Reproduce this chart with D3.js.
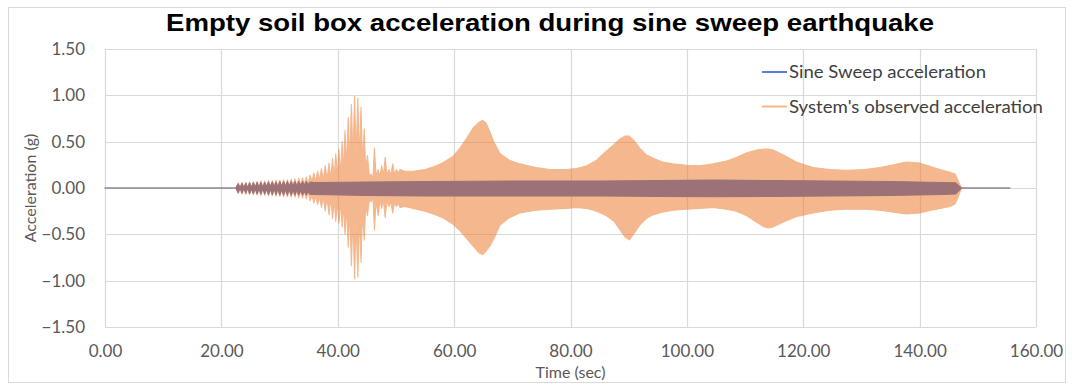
<!DOCTYPE html>
<html>
<head>
<meta charset="utf-8">
<script src="https://cdn.jsdelivr.net/npm/d3@7"></script>
<style>
  html, body { margin: 0; padding: 0; background: #fff; }
  svg { display: block; }
</style>
</head>
<body>
<svg id="chart" width="1072" height="385"></svg>
<script>
// ---- Axis ticks -------------------------------------------------------
const xTicks = [0, 20, 40, 60, 80, 100, 120, 140, 160];
const yTicks = [-1.5, -1.0, -0.5, 0, 0.5, 1.0, 1.5];

// ---- Series names -----------------------------------------------------
const seriesNames = ["Sine Sweep acceleration", "System's observed acceleration"];

// ---- Sine sweep input: outline of the record (time s, upper g, lower g)
const sweepTime = [0, 22.5,
  22.9, 23.2, 23.55, 23.85, 24.2, 24.5, 24.85, 25.15, 25.5, 25.8,
  26.15, 26.45, 26.8, 27.1, 27.45, 27.75, 28.1, 28.4, 28.75, 29.05,
  29.4, 29.7, 30.05, 30.35, 30.7, 31.0, 31.35, 31.65, 32.0, 32.3,
  32.65, 32.95, 33.3, 33.6, 33.95, 34.25, 34.6, 34.9,
  35.25, 36, 45, 55, 70, 85, 95, 105, 115, 125, 135, 144, 146.2, 146.8, 147.2, 155.5];
const sweepUpper = [0, 0,
  0.045, 0.0, 0.05, 0.0, 0.05, 0.0, 0.055, 0.005, 0.055, 0.005,
  0.06, 0.005, 0.06, 0.005, 0.06, 0.01, 0.065, 0.01, 0.065, 0.01,
  0.065, 0.01, 0.07, 0.015, 0.07, 0.015, 0.07, 0.015, 0.07, 0.02,
  0.07, 0.02, 0.07, 0.025, 0.07, 0.03, 0.07, 0.035,
  0.065, 0.06, 0.065, 0.07, 0.075, 0.075, 0.08, 0.085, 0.08, 0.075, 0.07, 0.06, 0.055, 0.02, 0, 0];
const sweepLower = [0, 0,
  -0.05, 0.0, -0.055, 0.0, -0.055, 0.0, -0.06, -0.005, -0.06, -0.005,
  -0.065, -0.005, -0.065, -0.005, -0.065, -0.01, -0.07, -0.01, -0.07, -0.01,
  -0.07, -0.01, -0.075, -0.015, -0.075, -0.015, -0.075, -0.015, -0.075, -0.02,
  -0.075, -0.02, -0.075, -0.025, -0.075, -0.03, -0.075, -0.035,
  -0.07, -0.07, -0.08, -0.085, -0.085, -0.085, -0.09, -0.095, -0.09, -0.085, -0.08, -0.07, -0.065, -0.025, 0, 0];

// ---- Observed response, cycle by cycle up to 50.7 s (peaks and valleys)
const burstTime = [0, 22.5,
  22.9, 23.2, 23.55, 23.85, 24.2, 24.5, 24.85, 25.15, 25.5, 25.8,
  26.15, 26.45, 26.8, 27.1, 27.45, 27.75, 28.1, 28.4, 28.75, 29.05,
  29.4, 29.7, 30.05, 30.35, 30.7, 31.0, 31.35, 31.65, 32.0, 32.3,
  32.65, 32.95, 33.3, 33.6, 33.95, 34.25, 34.6, 34.9,
  35.25, 35.55, 35.9, 36.2, 36.55, 36.85, 37.2, 37.5, 37.85, 38.15,
  38.5, 38.8, 39.1, 39.4, 39.65, 39.95, 40.2, 40.5, 40.75, 41.0,
  41.25, 41.5, 41.8, 42.05, 42.35, 42.6, 42.9, 43.15, 43.45, 43.7,
  44.0, 44.25, 44.55, 44.8, 45.1, 45.45, 45.75, 46.05, 46.3, 46.6,
  46.95, 47.25, 47.55, 47.85, 48.15, 48.45, 48.8, 49.1, 49.45, 49.75,
  50.1, 50.4, 50.7];
const burstUpper = [0, 0,
  0.055, 0.005, 0.06, 0.005, 0.065, 0.005, 0.065, 0.01, 0.07, 0.01,
  0.07, 0.01, 0.075, 0.01, 0.075, 0.015, 0.08, 0.015, 0.08, 0.015,
  0.085, 0.015, 0.085, 0.02, 0.09, 0.02, 0.09, 0.02, 0.095, 0.025,
  0.10, 0.025, 0.105, 0.03, 0.11, 0.035, 0.12, 0.04,
  0.14, 0.07, 0.16, 0.075, 0.18, 0.08, 0.21, 0.085, 0.24, 0.09,
  0.27, 0.1, 0.32, 0.11, 0.37, 0.13, 0.42, 0.15, 0.5, 0.18,
  0.62, 0.22, 0.76, 0.27, 0.9, 0.32, 0.99, 0.35, 0.97, 0.33,
  0.87, 0.28, 0.64, 0.2, 0.35, 0.12, 0.15, 0.1, 0.43, 0.13,
  0.2, 0.12, 0.24, 0.13, 0.33, 0.14, 0.2, 0.14, 0.26, 0.15,
  0.2, 0.16, 0.2];
const burstLower = [0, 0,
  -0.06, -0.005, -0.065, -0.005, -0.07, -0.005, -0.07, -0.01, -0.075, -0.01,
  -0.075, -0.01, -0.08, -0.01, -0.08, -0.015, -0.085, -0.015, -0.085, -0.015,
  -0.09, -0.015, -0.09, -0.02, -0.095, -0.02, -0.095, -0.02, -0.1, -0.025,
  -0.1, -0.025, -0.105, -0.03, -0.11, -0.035, -0.12, -0.04,
  -0.14, -0.08, -0.16, -0.085, -0.18, -0.09, -0.21, -0.095, -0.25, -0.1,
  -0.29, -0.11, -0.33, -0.12, -0.36, -0.14, -0.38, -0.15, -0.42, -0.17,
  -0.5, -0.2, -0.64, -0.24, -0.84, -0.3, -0.98, -0.34, -0.96, -0.32,
  -0.8, -0.27, -0.56, -0.19, -0.3, -0.12, -0.15, -0.1, -0.45, -0.14,
  -0.3, -0.13, -0.22, -0.13, -0.32, -0.14, -0.2, -0.15, -0.27, -0.16,
  -0.2, -0.17, -0.21];

// ---- Observed response, outline of the dense part (51.5 s onwards)
const envTime = [51.5, 53, 55, 56.5, 58, 59.8, 61, 62.1, 63.3, 64.3,
  64.9, 65.5, 66.2, 66.8, 67.9, 69.5, 71.3, 74, 76.5, 79.3,
  81, 82.8, 84.5, 86.2, 87.5, 88.5, 89.4, 90.1, 90.8, 91.9,
  93, 94.2, 95.8, 97.6, 100, 102.2, 104.5, 106.8, 108.5, 110.3,
  112, 113.3, 114, 114.8, 116.5, 118.8, 121.7, 124.5, 127.4, 130.5,
  133.2, 135.5, 137.7, 140, 142, 143.5, 145.2, 146.1, 146.6, 147.2, 155.5];
const envUpper = [0.18, 0.18, 0.2, 0.23, 0.27, 0.34, 0.43, 0.53, 0.65, 0.71,
  0.73, 0.7, 0.6, 0.5, 0.37, 0.3, 0.26, 0.22, 0.2, 0.2,
  0.21, 0.24, 0.3, 0.4, 0.47, 0.53, 0.56, 0.56, 0.52, 0.43,
  0.36, 0.32, 0.28, 0.26, 0.245, 0.24, 0.26, 0.29, 0.33, 0.38,
  0.41, 0.42, 0.42, 0.41, 0.36, 0.28, 0.22, 0.2, 0.19, 0.2,
  0.22, 0.25, 0.28, 0.27, 0.23, 0.2, 0.17, 0.15, 0.08, 0, 0];
const envLower = [-0.2, -0.22, -0.25, -0.28, -0.32, -0.39, -0.46, -0.54, -0.63, -0.7,
  -0.72, -0.68, -0.62, -0.55, -0.4, -0.32, -0.27, -0.24, -0.23, -0.22,
  -0.21, -0.22, -0.25, -0.3, -0.36, -0.45, -0.53, -0.56, -0.5, -0.4,
  -0.33, -0.29, -0.26, -0.24, -0.23, -0.22, -0.21, -0.23, -0.25, -0.3,
  -0.37, -0.42, -0.43, -0.42, -0.37, -0.31, -0.27, -0.24, -0.23, -0.23,
  -0.24, -0.26, -0.28, -0.27, -0.24, -0.22, -0.2, -0.17, -0.1, 0, 0];

// ---- Layout -----------------------------------------------------------
const plot = { left: 105, right: 1036, top: 49, bottom: 327 };
const colors = { sweep: "#3A66CE", observed: "#ED7D31", grid: "#D9D9D9", axisText: "#595959", legendText: "#404040" };
const tickFont = "Lato, 'Open Sans', sans-serif";

const svg = d3.select("#chart");

const x = d3.scaleLinear().domain([0, 160]).range([plot.left, plot.right]);
const y = d3.scaleLinear().domain([-1.5, 1.5]).range([plot.bottom, plot.top]);

// chart frame
svg.append("rect")
  .attr("x", 8.5).attr("y", 7.5).attr("width", 1057).attr("height", 375)
  .attr("fill", "#fff").attr("stroke", "#D9D9D9").attr("stroke-width", 1);

// gridlines
const grid = svg.append("g").attr("stroke", colors.grid).attr("stroke-width", 1.2);
grid.selectAll("line.h").data(yTicks).join("line").attr("class", "h")
  .attr("x1", plot.left).attr("x2", plot.right)
  .attr("y1", d => Math.round(y(d)) + 0.5).attr("y2", d => Math.round(y(d)) + 0.5);
grid.selectAll("line.v").data(xTicks).join("line").attr("class", "v")
  .attr("y1", plot.top).attr("y2", plot.bottom)
  .attr("x1", d => Math.round(x(d)) + 0.5).attr("x2", d => Math.round(x(d)) + 0.5);

// rows for the two series
const zip = (t, u, l) => t.map((d, i) => ({ t: d, up: u[i], lo: l[i] }));
const sweepRows = zip(sweepTime, sweepUpper, sweepLower);
const observedRows = zip(burstTime, burstUpper, burstLower).concat(zip(envTime, envUpper, envLower));

const area = d3.area()
  .x(d => x(d.t))
  .y0(d => y(d.lo))
  .y1(d => y(d.up));

// sine sweep input (drawn first, below)
svg.append("path")
  .datum(sweepRows)
  .attr("d", area)
  .attr("fill", colors.sweep)
  .attr("stroke", colors.sweep)
  .attr("stroke-width", 1.1)
  .attr("stroke-linejoin", "round");

// observed response (semi-transparent, on top)
svg.append("path")
  .datum(observedRows)
  .attr("d", area)
  .attr("fill", colors.observed)
  .attr("stroke", colors.observed)
  .attr("stroke-width", 1.1)
  .attr("stroke-linejoin", "round")
  .attr("opacity", 0.55);

// axes
const yAxis = d3.axisLeft(y).tickValues(yTicks).tickFormat(d3.format(".2f")).tickSize(0).tickPadding(20);
const xAxis = d3.axisBottom(x).tickValues(xTicks).tickFormat(d3.format(".2f")).tickSize(0).tickPadding(18);

const gy = svg.append("g").attr("transform", `translate(${plot.left},0)`).call(yAxis);
const gx = svg.append("g").attr("transform", `translate(0,${plot.bottom})`).call(xAxis);
[gx, gy].forEach(g => {
  g.select(".domain").remove();
  g.selectAll("text")
    .attr("fill", colors.axisText)
    .style("font-family", tickFont)
    .style("font-size", "17px");
});

// axis titles
svg.append("text")
  .attr("x", (plot.left + plot.right) / 2).attr("y", 378)
  .attr("text-anchor", "middle")
  .attr("fill", colors.axisText)
  .style("font-family", tickFont).style("font-size", "16px")
  .text("Time (sec)");

svg.append("text")
  .attr("transform", `translate(36,${(plot.top + plot.bottom) / 2}) rotate(-90)`)
  .attr("text-anchor", "middle")
  .attr("fill", colors.axisText)
  .style("font-family", tickFont).style("font-size", "16px")
  .text("Acceleration (g)");

// chart title
svg.append("text")
  .attr("x", 550).attr("y", 31)
  .attr("text-anchor", "middle")
  .attr("fill", "#000")
  .attr("textLength", 768)
  .attr("lengthAdjust", "spacingAndGlyphs")
  .style("font-family", "'Liberation Sans', Arial, sans-serif")
  .style("font-weight", "bold")
  .style("font-size", "24px")
  .text("Empty soil box acceleration during sine sweep earthquake");

// legend
const legendWidths = [197, 254];
const legend = svg.append("g").attr("transform", "translate(762,72)");
const legendItems = legend.selectAll("g").data(seriesNames).join("g")
  .attr("transform", (d, i) => `translate(0,${i * 34.5})`);
legendItems.append("line")
  .attr("x1", 0).attr("x2", 25).attr("y1", 0).attr("y2", 0)
  .attr("stroke", (d, i) => i === 0 ? colors.sweep : colors.observed)
  .attr("stroke-opacity", (d, i) => i === 0 ? 0.85 : 0.55)
  .attr("stroke-width", 2);
legendItems.append("text")
  .attr("x", 27).attr("y", 0).attr("dy", "0.35em")
  .attr("fill", colors.legendText)
  .attr("textLength", (d, i) => legendWidths[i])
  .attr("lengthAdjust", "spacingAndGlyphs")
  .style("font-family", tickFont).style("font-size", "17.5px")
  .text(d => d);
</script>
</body>
</html>
